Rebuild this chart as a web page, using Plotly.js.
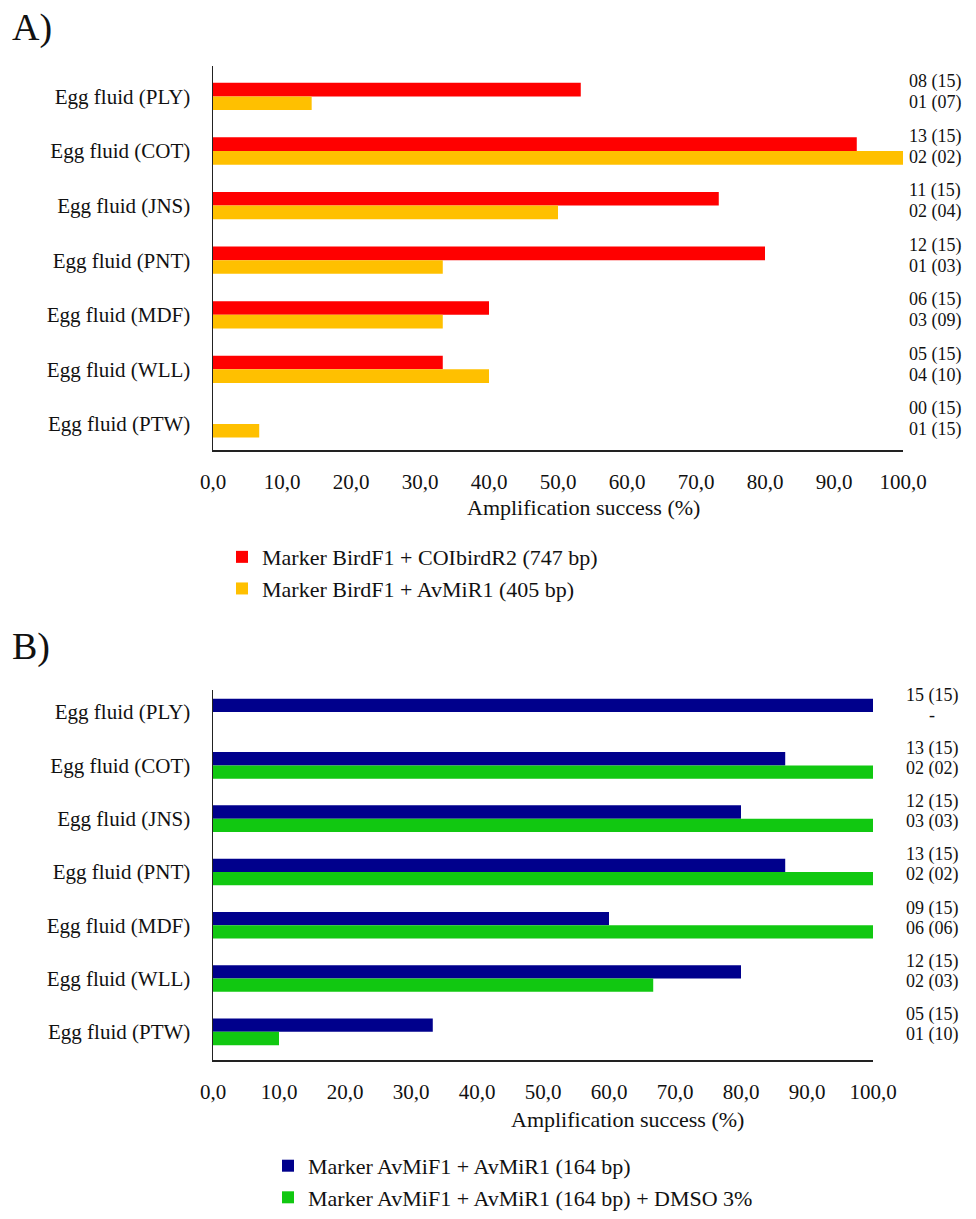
<!DOCTYPE html>
<html>
<head>
<meta charset="utf-8">
<script src="https://cdn.plot.ly/plotly-3.0.1.min.js"></script>
<style>html,body{margin:0;padding:0;background:#fff;}#chart{width:976px;height:1219px;}</style>
</head>
<body>
<div id="chart"></div>
<script>
// ---- Data ----
const categories = ["Egg fluid (PLY)", "Egg fluid (COT)", "Egg fluid (JNS)", "Egg fluid (PNT)", "Egg fluid (MDF)", "Egg fluid (WLL)", "Egg fluid (PTW)"];

// Panel A
const seriesA1Name = "Marker BirdF1 + COIbirdR2 (747 bp)";
const seriesA1 = [53.3, 93.3, 73.3, 80.0, 40.0, 33.3, 0];
const seriesA2Name = "Marker BirdF1 + AvMiR1 (405 bp)";
const seriesA2 = [14.3, 100.0, 50.0, 33.3, 33.3, 40.0, 6.7];
const countsA1 = ["08 (15)", "13 (15)", "11 (15)", "12 (15)", "06 (15)", "05 (15)", "00 (15)"];
const countsA2 = ["01 (07)", "02 (02)", "02 (04)", "01 (03)", "03 (09)", "04 (10)", "01 (15)"];

// Panel B
const seriesB1Name = "Marker AvMiF1 + AvMiR1 (164 bp)";
const seriesB1 = [100.0, 86.7, 80.0, 86.7, 60.0, 80.0, 33.3];
const seriesB2Name = "Marker AvMiF1 + AvMiR1 (164 bp) + DMSO 3%";
const seriesB2 = [null, 100.0, 100.0, 100.0, 100.0, 66.7, 10.0];
const countsB1 = ["15 (15)", "13 (15)", "12 (15)", "13 (15)", "09 (15)", "12 (15)", "05 (15)"];
const countsB2 = ["-", "02 (02)", "03 (03)", "02 (02)", "06 (06)", "02 (03)", "01 (10)"];

const xTitle = "Amplification success (%)";
const panelLabels = ["A)", "B)"];

// ---- Styling ----
const SERIF = "Liberation Serif";
const W = 976, H = 1219;
const px = v => v / W;
const py = v => 1 - v / H;
const f = (size) => ({family: SERIF, size: size, color: "#111"});

const traces = [
  {type: "bar", orientation: "h", name: seriesA1Name, x: seriesA1, y: categories, xaxis: "x", yaxis: "y",
   marker: {color: "#FF0000"}, legend: "legend", legendgroup: "a1"},
  {type: "bar", orientation: "h", name: seriesA2Name, x: seriesA2, y: categories, xaxis: "x", yaxis: "y",
   marker: {color: "#FFC000"}, legend: "legend", legendgroup: "a2"},
  {type: "bar", orientation: "h", name: seriesB1Name, x: seriesB1, y: categories, xaxis: "x2", yaxis: "y2",
   marker: {color: "#00008C"}, legend: "legend2", legendgroup: "b1"},
  {type: "bar", orientation: "h", name: seriesB2Name, x: seriesB2, y: categories, xaxis: "x2", yaxis: "y2",
   marker: {color: "#11C811"}, legend: "legend2", legendgroup: "b2"}
];

function xAxis(domain, anchor) {
  return {domain: domain, anchor: anchor, range: [0, 100], dtick: 10, tick0: 0, tickformat: ".1f",
    showgrid: false, zeroline: false, showline: true, linecolor: "#222", linewidth: 1.5,
    ticks: "", ticklabelstandoff: 12, tickfont: f(21), fixedrange: true};
}
function yAxis(domain, anchor, range) {
  return {domain: domain, anchor: anchor, range: range, type: "category",
    showgrid: false, zeroline: false, showline: true, linecolor: "#222", linewidth: 1.5,
    ticks: "", ticklabelstandoff: 17, tickfont: f(21), fixedrange: true};
}

const annotations = [];
annotations.push({xref: "paper", yref: "paper", x: px(10), y: py(28), xanchor: "left", yanchor: "middle",
  text: panelLabels[0], showarrow: false, font: f(38)});
annotations.push({xref: "paper", yref: "paper", x: px(10), y: py(657), xanchor: "left", yanchor: "middle",
  text: panelLabels[1], showarrow: false, font: f(38)});
annotations.push({xref: "paper", yref: "paper", x: px(583), y: py(516), xanchor: "center", yanchor: "middle",
  text: xTitle, showarrow: false, font: f(22)});
annotations.push({xref: "paper", yref: "paper", x: px(627), y: py(1138), xanchor: "center", yanchor: "middle",
  text: xTitle, showarrow: false, font: f(22)});
categories.forEach((c, i) => {
  annotations.push({xref: "paper", yref: "y", x: px(907), y: c, yshift: 15, xanchor: "left", yanchor: "middle",
    text: countsA1[i], showarrow: false, font: f(18)});
  annotations.push({xref: "paper", yref: "y", x: px(907), y: c, yshift: -6, xanchor: "left", yanchor: "middle",
    text: countsA2[i], showarrow: false, font: f(18)});
  annotations.push({xref: "paper", yref: "y2", x: px(904), y: c, yshift: 17, xanchor: "left", yanchor: "middle",
    text: countsB1[i], showarrow: false, font: f(18)});
  annotations.push({xref: "paper", yref: "y2", x: px(countsB2[i] === "-" ? 927 : 904), y: c, yshift: -3, xanchor: "left", yanchor: "middle",
    text: countsB2[i], showarrow: false, font: f(18)});
});

const layout = {
  width: W, height: H,
  margin: {l: 0, r: 0, t: 0, b: 0, pad: 0},
  paper_bgcolor: "#fff", plot_bgcolor: "#fff",
  separators: ",.",
  barmode: "group", bargap: 0.5, bargroupgap: 0,
  xaxis: xAxis([px(213), px(903)], "y"),
  yaxis: yAxis([py(458), py(67)], "x", [6.486, -0.559]),
  xaxis2: xAxis([px(213), px(873)], "y2"),
  yaxis2: yAxis([py(1078), py(702)], "x2", [6.535, -0.406]),
  showlegend: true,
  legend: {x: px(222), y: py(545), xanchor: "left", yanchor: "top", orientation: "v", traceorder: "normal",
    tracegroupgap: 3, bgcolor: "rgba(0,0,0,0)", font: f(22)},
  legend2: {x: px(268), y: py(1164), xanchor: "left", yanchor: "top", orientation: "v", traceorder: "normal",
    tracegroupgap: 4, bgcolor: "rgba(0,0,0,0)", font: f(22)},
  annotations: annotations
};

Plotly.newPlot("chart", traces, layout, {displayModeBar: false, staticPlot: true});
</script>
</body>
</html>
